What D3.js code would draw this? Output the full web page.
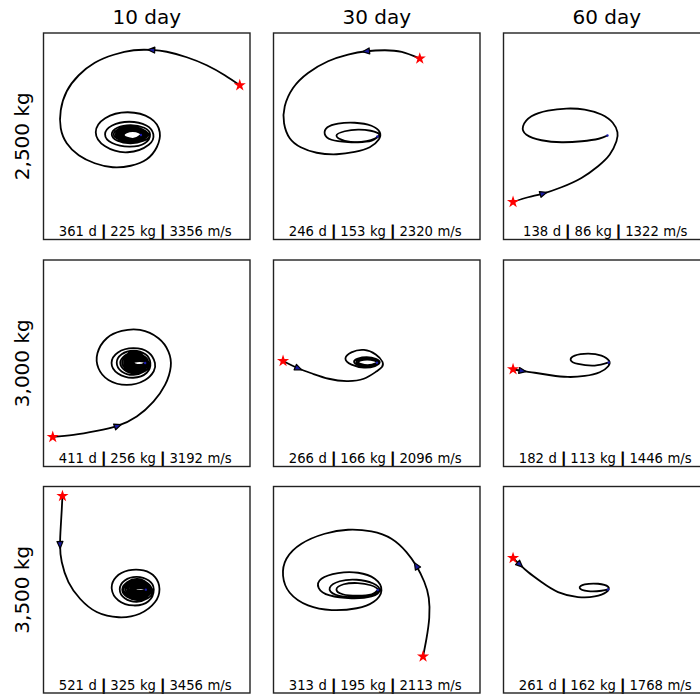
<!DOCTYPE html>
<html><head><meta charset="utf-8">
<script src="https://cdn.jsdelivr.net/npm/d3@7"></script>
<style>body{margin:0;background:#fff}svg{display:block}</style>
</head><body>
<svg id="chart" width="700" height="694"></svg>
<script>
const columnLabels = ["10 day", "30 day", "60 day"];
const rowLabels = ["2,500 kg", "3,000 kg", "3,500 kg"];
const flightDays = [[361, 246, 138], [411, 266, 182], [521, 313, 261]];
const propellantKg = [[225, 153, 86], [256, 166, 113], [325, 195, 162]];
const deltaV = [[3356, 2320, 1322], [3192, 2096, 1446], [3456, 2113, 1768]];

// trajectories in panel units (x right, y up), first point = departure (star)
const traj_2500_10 = [[93,51],[78,61],[60,71],[40,79],[20,84.5],[5,86.3],[-13,86],[-33,81.5],[-52,73.5],[-68,61],[-80,45],[-86,26],[-86,8],[-80,-7],[-68,-19],[-52,-27],[-34,-31],[-16,-29.5],[0,-23],[10,-11],
 [13,4],[3.6,18],[-19,24],[-41.6,18.1],[-51,4],[-41.6,-10.1],[-19,-16],[2,-8.5],
 [6.6,2],[-0.4,10.8],[-17.5,14.5],[-34.6,10.8],[-41.7,2],[-34.6,-6.8],[-17.5,-10.4],[-2,-7],
 [3.3,2],[-2.6,8.5],[-16,11.2],[-29.4,8.5],[-35,2],[-29.4,-4.5],[-16,-7],[-3,-4.5],
 [2,2],[-15.5,9.6],[-33,2],[-15.5,-5.8],
 [1,1.8],[-15,8.7],[-31,1.8],[-15,-5.1],
 [0,1.7],[-14.7,7.9],[-29.4,1.7],[-14.7,-4.5],
 [-1,1.6],[-14.5,7.2],[-28,1.6],[-14.5,-4],
 [-2,1.5],[-14.3,6.6],[-26.6,1.5],[-14.3,-3.6],
 [-3,1.4],[-14.1,6],[-25.2,1.4],[-14.1,-3.2],
 [-4,1.3],[-14,5.5],[-24,1.3],[-14,-2.9],
 [-5,1.2],[-14,5.1],[-23,1.2],[-14,-2.6],
 [-5.8,1.2]];
const traj_2500_30 = [[43,77.7],[25,84.3],[8,86],[-10.3,85],[-28.7,81.7],[-48.7,75],[-68.7,63.3],[-83.7,48.3],[-92,30],[-92.7,13],[-87,-2],[-76,-11],[-60,-16.5],[-40,-18],[-22,-15.7],[-7,-11],[2,-3.3],[3,4],[-5.3,10.5],[-22,13.5],[-38.7,12.7],[-49.3,9],[-52,2.3],[-45.3,-3.5],[-28.7,-5.8],[-10.3,-5],[2.5,1],[-6,5.5],[-18.7,6.7],[-32,5],[-40.3,0.5],[-32,-4.5],[-18.7,-6],[-5,-4.5],[0.7,-0.3]];
const traj_2500_60 = [[-93.7,-65.7],[-78.7,-61],[-63.7,-57.3],[-45.3,-51],[-25.3,-41.7],[-8.7,-30],[3,-18.3],[9.7,-5],[10.7,4],[6,13.5],[-5.3,21.7],[-22,26.7],[-40.3,27.7],[-58.7,25.7],[-75.3,20],[-83.7,10],[-80.3,1.5],[-65.3,-4],[-45,-6],[-25,-5],[-8,-2.5],[0.7,0.7]];
const traj_3000_10 = [[-94,-73.7],[-73.3,-71.7],[-50,-67.7],[-29.3,-62.7],[-10,-53.3],[6.7,-38.3],[18.3,-21.7],[24,-3.3],[21.7,11.7],[11.7,25],[-6.7,33.3],[-25,32.3],[-40,25],[-49.3,10],[-48.3,-5],[-38.3,-16.7],[-20,-21.7],[-2,-17],[7,-8],
 [8.2,0.3],[1.8,10.8],[-13.5,15.1],[-28.8,10.8],[-35.2,0.3],[-28.8,-10.2],[-13.5,-14.5],[0,-9.5],
 [3.6,0.4],[-1.3,8.9],[-13.2,12.5],[-25.1,8.9],[-30,0.4],[-25.1,-8.2],[-13.2,-11.7],[-2,-8],
 [2.2,0.4],[-12,11],[-26.5,0.4],[-12,-10.4],
 [1.5,0.4],[-11.5,9.6],[-24.5,0.4],[-11.5,-9.1],
 [0.9,0.4],[-11,8.3],[-22.6,0.4],[-11,-7.8],
 [0.4,0.4],[-10.4,7],[-21,0.4],[-10.4,-6.4],
 [-0.1,0.35],[-9.8,5.8],[-19.3,0.35],[-9.8,-5.1],
 [-0.5,0.3],[-9.2,4.6],[-17.7,0.3],[-9.2,-4],
 [-0.9,0.3],[-8.6,3.6],[-16.2,0.3],[-8.6,-3],
 [-1.2,0.3],[-8,2.8],[-14.6,0.3],[-8,-2.2],
 [-1.5,0.3],[-7.5,2.2],[-13.4,0.3],[-7.5,-1.7],
 [-1.6,0.3]];
const traj_3000_30 = [[-93.7,2.3],[-78.7,-5],[-64,-10.5],[-48,-15.5],[-30,-17.8],[-13,-15.5],[0,-8],[5.7,1.5],[-12.8,13.3],[-31.3,4.5],[-12.8,-4.3],
 [3,1],[-10,6],[-22.7,1.5],[-10,-3.3],
 [2,0.8],[-9.8,4.6],[-20.3,1.2],[-9.5,-2.6],
 [1,0.6],[-9.5,3.6],[-18.3,0.9],[-9.3,-1.9],
 [0.2,0.5]];
const traj_3000_60 = [[-93.7,-6],[-84.7,-7.7],[-72,-9.5],[-56,-12],[-39,-13.7],[-22,-12.7],[-7,-9],[1.5,-3],[2.3,2.5],[-5.3,7.7],[-18.7,9.7],[-32,7.7],[-36,3],[-28.7,-0.7],[-12,-2.3],[2,0.8]];
const traj_3500_10 = [[-84.3,93.7],[-85,80],[-86,63],[-86.7,45.3],[-85,27.7],[-78.3,7.7],[-66.7,-9],[-50,-22.3],[-28,-27.5],[-7,-24],[8.3,-12.3],
 [12.7,1],[8.3,12.7],[-3.3,19.3],[-18.3,19.3],[-30.7,12.7],[-35,1],[-28.3,-10.7],[-13.3,-15.7],[1.7,-11.5],
 [7,0.4],[2,9.2],[-10,12.8],[-22,9.2],[-27,0.4],[-22,-8.4],[-10,-12],[1,-8.5],
 [5.5,0.2],[-9.5,10.8],[-24.5,0.2],[-9.5,-10],
 [4.8,0.1],[-9,9.6],[-23,0.1],[-9,-8.9],
 [4,0.1],[-8.5,8.4],[-21,0.1],[-8.5,-7.7],
 [3.2,0.1],[-8,7],[-19,0.1],[-8,-6.4],
 [2.4,0.1],[-7.5,5.6],[-17.2,0.1],[-7.5,-5.1],
 [1.6,0.1],[-7,4.3],[-15.5,0.1],[-7,-3.9],
 [0.9,0.1],[-6.6,3.1],[-14,0.1],[-6.6,-2.8],
 [0.2,0.1],[-6.2,2.1],[-12.5,0.1],[-6.2,-1.8],
 [-0.4,0.1],[-5.9,1.5],[-11.3,0.1],[-5.9,-1.2],
 [-0.9,0.1]];
const traj_3500_30 = [[46.3,-66.7],[49.7,-49],[52.5,-28],[52,-8],[47.5,8],[39.7,23.7],[29.7,37.7],[14.7,51],[-5.3,58.3],[-28.7,60],[-52,56],[-75.3,46],[-90.3,31],[-93.7,14],[-87,-3],[-68.7,-15.7],[-45,-20.3],[-20,-18.5],[-3,-12],[4.7,-0.7],
 [-2,11],[-18.7,17],[-38.7,16.7],[-55.3,11],[-58,1.7],[-47,-5.7],[-25.3,-8.5],[-5.3,-6.7],
 [3,-0.5],[-4,6.5],[-20,10],[-37,8.5],[-47,2],[-41,-5],[-22,-7.5],[-5,-6],
 [1.5,-0.5],[-6,4.5],[-19,6.7],[-33,5.5],[-40.3,0.5],[-34,-4.5],[-19,-6],[-5,-4.5],
 [1,-0.3]];
const traj_3500_60 = [[-93.7,31.7],[-87,25.3],[-78.7,17.7],[-65.3,7.7],[-48.7,-2.3],[-28.7,-7.3],[-12,-6.7],[-0.3,-2.3],[1.3,3],[-8.7,6],[-22,5.3],[-27,1.7],[-18.7,-1.3],[-5.3,-1],[1.3,0.3]];

const trajectories = [
  [traj_2500_10, traj_2500_30, traj_2500_60],
  [traj_3000_10, traj_3000_30, traj_3000_60],
  [traj_3500_10, traj_3500_30, traj_3500_60]
];
// index of the point carrying the direction arrow
const arrowIndex = [[5, 3, 2], [3, 1, 1], [3, 5, 1]];

// ---------- layout ----------
const panelSize = 206.5;
const panelX = [43.5, 273.5, 503.5];
const panelY = [33, 260, 486.5];

const svg = d3.select("#chart");
const x = d3.scaleLinear().domain([-103.25, 103.25]).range([0, panelSize]);
const y = d3.scaleLinear().domain([-103.25, 103.25]).range([panelSize, 0]);
const line = d3.line().x(d => x(d[0])).y(d => y(d[1])).curve(d3.curveNatural);
const font = "DejaVu Sans, sans-serif";

columnLabels.forEach((t, c) => {
  svg.append("text").attr("x", panelX[c] + panelSize / 2).attr("y", 24)
    .attr("text-anchor", "middle").attr("font-family", font).attr("font-size", 20)
    .attr("fill", "#000").text(t);
});
rowLabels.forEach((t, r) => {
  svg.append("text")
    .attr("transform", `translate(28.5,${panelY[r] + panelSize / 2}) rotate(-90)`)
    .attr("text-anchor", "middle").attr("font-family", font).attr("font-size", 20)
    .attr("fill", "#000").text(t);
});

for (let r = 0; r < 3; r++) {
  for (let c = 0; c < 3; c++) {
    const g = svg.append("g").attr("transform", `translate(${panelX[c]},${panelY[r]})`);
    const pts = trajectories[r][c];
    g.append("path").attr("d", line(pts)).attr("fill", "none")
      .attr("stroke", "#000").attr("stroke-width", 1.8).attr("stroke-linejoin", "round");

    // arrival marker
    const e = pts[pts.length - 1];
    g.append("circle").attr("cx", x(e[0])).attr("cy", y(e[1])).attr("r", 1.2).attr("fill", "#1a1ab0");

    // direction arrow
    const i = arrowIndex[r][c];
    const p = pts[i], pn = pts[i + 1], pp = pts[i - 1];
    const ang = Math.atan2(y(pn[1]) - y(pp[1]), x(pn[0]) - x(pp[0])) * 180 / Math.PI;
    g.append("path").attr("d", "M4,0L-3,3L-3,-3Z")
      .attr("transform", `translate(${x(p[0])},${y(p[1])}) rotate(${ang})`)
      .attr("fill", "#1a1aa0").attr("stroke", "#000").attr("stroke-width", 1.2)
      .attr("stroke-linejoin", "round");

    // departure star
    const s = pts[0];
    g.append("path").attr("d", d3.symbol(d3.symbolStar, 46)())
      .attr("transform", `translate(${x(s[0])},${y(s[1])})`).attr("fill", "#ff0000");

    // stats line
    const t = g.append("text").attr("x", panelSize / 2 - 1.5).attr("y", panelSize - 3.5)
      .attr("text-anchor", "middle").attr("font-family", font).attr("font-size", 13.2)
      .attr("word-spacing", "0.3px").attr("fill", "#000");
    t.append("tspan").text(`${flightDays[r][c]} d `);
    t.append("tspan").attr("stroke", "#000").attr("stroke-width", 0.9).text("|");
    t.append("tspan").text(` ${propellantKg[r][c]} kg `);
    t.append("tspan").attr("stroke", "#000").attr("stroke-width", 0.9).text("|");
    t.append("tspan").text(` ${deltaV[r][c]} m/s`);

    g.append("rect").attr("x", 0).attr("y", 0).attr("width", panelSize).attr("height", panelSize)
      .attr("fill", "none").attr("stroke", "#222").attr("stroke-width", 1.4);
  }
}
</script>
</body></html>
